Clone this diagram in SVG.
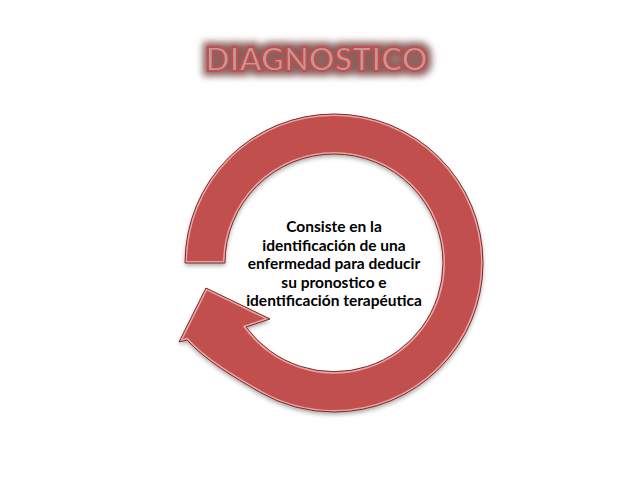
<svg xmlns="http://www.w3.org/2000/svg" width="638" height="479" viewBox="0 0 638 479">
  <defs>
    <style>
      .ring { fill: #c0504d; }
      .ring-hi { fill: none; stroke: #eaa3a1; stroke-width: 4; }
      .ring-edge { fill: none; stroke: #7a2f2d; stroke-width: 1; }
      .body { font-family: Lato, "Liberation Sans", sans-serif; font-weight: bold; font-size: 15.5px; fill: #000; text-anchor: middle; }
      .title { font-family: Lato, "Liberation Sans", sans-serif; font-weight: 900; font-size: 32px; fill: #c49896; stroke: #c0504d; stroke-width: 2; text-anchor: middle; }
    </style>
    <path id="ringShape" d="M 185 263 A 149 149 0 0 1 483 263 A 149 149 0 0 1 334 412 A 149 149 0 0 1 259.5 392 C 233.5 377 205 360 187 340 L 179 342 L 206 288 L 270 319 L 246 327 A 109 109 0 0 0 443 263 A 109 109 0 0 0 334 154 A 109 109 0 0 0 225 263 Z"/>
    <clipPath id="ringClip"><use href="#ringShape"/></clipPath>
    <filter id="shadow" x="-10%" y="-10%" width="120%" height="130%">
      <feDropShadow dx="0" dy="2.5" stdDeviation="2" flood-color="#000" flood-opacity="0.35"/>
    </filter>
    <filter id="glow" x="-10%" y="-50%" width="120%" height="200%">
      <feMorphology in="SourceAlpha" operator="dilate" radius="4" result="d"/>
      <feGaussianBlur in="d" stdDeviation="3.5" result="b"/>
      <feFlood flood-color="#8c5f5d" flood-opacity="1"/>
      <feComposite in2="b" operator="in" result="g"/>
      <feMerge><feMergeNode in="g"/><feMergeNode in="SourceGraphic"/></feMerge>
    </filter>
  </defs>
  <rect width="638" height="479" fill="#ffffff"/>

  <g id="title">
    <text class="title" x="316.5" y="71" textLength="222" lengthAdjust="spacingAndGlyphs" filter="url(#glow)">DIAGNOSTICO</text>
  </g>

  <g id="connectors">
    <g id="cycle-arrow">
      <use href="#ringShape" class="ring" filter="url(#shadow)"/>
      <use href="#ringShape" class="ring-hi" clip-path="url(#ringClip)"/>
      <use href="#ringShape" class="ring-edge"/>
    </g>
  </g>

  <g id="center-text">
    <text class="body" x="334" y="232">Consiste en la</text>
    <text class="body" x="334" y="250.5">identificación de una</text>
    <text class="body" x="334" y="269">enfermedad para deducir</text>
    <text class="body" x="334" y="287.5">su pronostico e</text>
    <text class="body" x="334" y="306">identificación terapéutica</text>
  </g>
</svg>
